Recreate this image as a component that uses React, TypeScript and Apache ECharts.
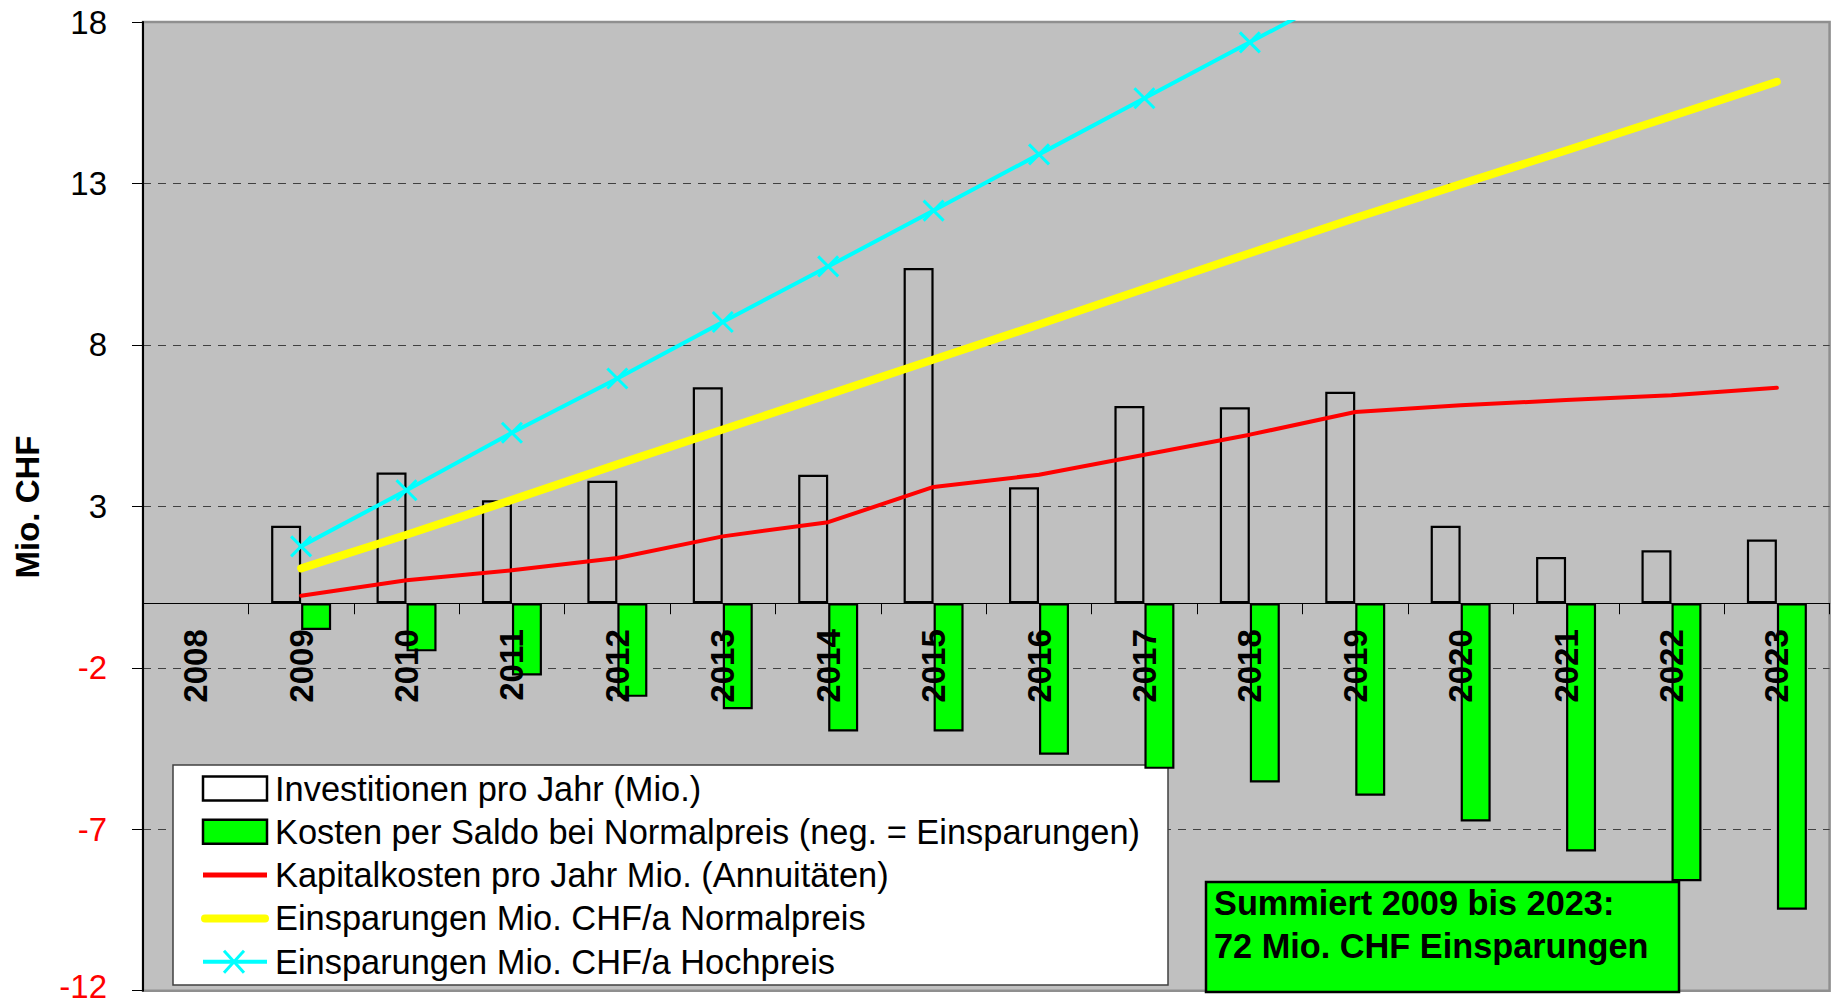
import React, { useEffect, useRef } from 'react';
import * as echarts from 'echarts';

// ---------- data ----------
const years = ['2008', '2009', '2010', '2011', '2012', '2013', '2014', '2015', '2016', '2017', '2018', '2019', '2020', '2021', '2022', '2023'];
const investitionen = [null, 2.40, 4.05, 3.19, 3.79, 6.69, 3.98, 10.38, 3.59, 6.11, 6.07, 6.55, 2.40, 1.43, 1.64, 1.97];
const kostenSaldo = [null, -0.83, -1.49, -2.24, -2.90, -3.28, -3.97, -3.97, -4.69, -5.13, -5.55, -5.96, -6.76, -7.69, -8.61, -9.49];
const kapitalkosten = [null, 0.23, 0.71, 1.02, 1.40, 2.07, 2.51, 3.60, 3.98, 4.60, 5.22, 5.92, 6.13, 6.29, 6.44, 6.67];
const normalpreis = [null, 1.08, 2.12, 3.20, 4.30, 5.38, 6.46, 7.55, 8.63, 9.74, 10.84, 11.93, 12.98, 14.02, 15.08, 16.15];
const hochpreis = [null, 1.76, 3.50, 5.28, 6.96, 8.71, 10.43, 12.16, 13.90, 15.64, 17.37, 19.10, null, null, null, null];

const yMin = -12;
const yMax = 18;
const yStep = 5;

const seriesNames = [
  'Investitionen pro Jahr (Mio.)',
  'Kosten per Saldo bei Normalpreis (neg. = Einsparungen)',
  'Kapitalkosten pro Jahr Mio. (Annuitäten)',
  'Einsparungen Mio. CHF/a Normalpreis',
  'Einsparungen Mio. CHF/a Hochpreis',
];
const yAxisTitle = 'Mio. CHF';
const summaryLines = ['Summiert 2009 bis 2023:', '72 Mio. CHF Einsparungen'];

const FONT = '"Liberation Sans", Arial, Helvetica, sans-serif';
const C_RED = '#FF0000';
const C_YELLOW = '#FFFF00';
const C_CYAN = '#00FFFF';
const C_GREEN = '#00FF00';

// layout
const W = 1831;
const H = 1007;
const GRID_LEFT = 143;
const GRID_RIGHT = 1.4;
const GRID_TOP = 22;
const GRID_BOTTOM = 16.3;

function txt(text: string, x: number, y: number, size: number, weight: string, extra: any = {}) {
  return {
    type: 'text',
    x,
    y,
    z: extra.z ?? 5,
    rotation: extra.rotation ?? 0,
    silent: true,
    style: {
      text,
      fill: '#000',
      fontSize: size,
      fontFamily: FONT,
      fontWeight: weight,
      align: extra.align ?? 'left',
      textAlign: extra.align ?? 'left',
      verticalAlign: 'middle',
      textVerticalAlign: 'middle',
    },
  };
}

export default function App() {
  const ref = useRef<HTMLDivElement>(null);

  useEffect(() => {
    document.body.style.margin = '0';
    const chart = echarts.init(ref.current!, undefined, { renderer: 'svg' });

    const gridH = H - GRID_TOP - GRID_BOTTOM;
    // distance from grid bottom up to the zero line
    const zeroOffset = (gridH * (0 - yMin)) / (yMax - yMin);

    const rowY = (i: number) => 788.5 + i * 43.3;
    const iconX = 203;
    const iconW = 64;
    const textX = 275;

    const legendGraphics: any[] = [
      {
        type: 'rect', z: 1, silent: true,
        shape: { x: 173, y: 765, width: 995, height: 220 },
        style: { fill: '#FFFFFF', stroke: '#404040', lineWidth: 1.5 },
      },
      {
        type: 'rect', z: 5, silent: true,
        shape: { x: iconX, y: rowY(0) - 12, width: iconW, height: 24 },
        style: { fill: '#FFFFFF', stroke: '#000', lineWidth: 2.5 },
      },
      {
        type: 'rect', z: 5, silent: true,
        shape: { x: iconX, y: rowY(1) - 12, width: iconW, height: 24 },
        style: { fill: C_GREEN, stroke: '#000', lineWidth: 2.5 },
      },
      {
        type: 'line', z: 5, silent: true,
        shape: { x1: iconX, y1: rowY(2), x2: iconX + iconW, y2: rowY(2) },
        style: { stroke: C_RED, lineWidth: 5 },
      },
      {
        type: 'line', z: 5, silent: true,
        shape: { x1: iconX + 2, y1: rowY(3), x2: iconX + iconW - 2, y2: rowY(3) },
        style: { stroke: C_YELLOW, lineWidth: 8, lineCap: 'round' },
      },
      {
        type: 'line', z: 5, silent: true,
        shape: { x1: iconX, y1: rowY(4), x2: iconX + iconW, y2: rowY(4) },
        style: { stroke: C_CYAN, lineWidth: 4 },
      },
      {
        type: 'line', z: 5, silent: true,
        shape: { x1: 224, y1: rowY(4) - 11, x2: 244, y2: rowY(4) + 11 },
        style: { stroke: C_CYAN, lineWidth: 3 },
      },
      {
        type: 'line', z: 5, silent: true,
        shape: { x1: 244, y1: rowY(4) - 11, x2: 224, y2: rowY(4) + 11 },
        style: { stroke: C_CYAN, lineWidth: 3 },
      },
      ...seriesNames.map((n, i) => txt(n, textX, rowY(i), 34.4, 'normal')),
    ];

    const summaryGraphics: any[] = [
      {
        type: 'rect', z: 100, silent: true,
        shape: { x: 1206, y: 882, width: 473, height: 110 },
        style: { fill: C_GREEN, stroke: '#000', lineWidth: 2.5 },
      },
      txt(summaryLines[0], 1214, 903, 34.3, 'bold', { z: 101 }),
      txt(summaryLines[1], 1214, 946, 34.3, 'bold', { z: 101 }),
    ];

    const titleGraphic = txt(yAxisTitle, 27, 507, 33, 'bold', { rotation: Math.PI / 2, align: 'center' });

    chart.setOption({
      animation: false,
      textStyle: { fontFamily: FONT },
      grid: {
        left: GRID_LEFT,
        right: GRID_RIGHT,
        top: GRID_TOP,
        bottom: GRID_BOTTOM,
        show: true,
        backgroundColor: '#C0C0C0',
        borderColor: '#8f8f8f',
        borderWidth: 2.5,
        containLabel: false,
        outerBoundsMode: 'none',
      },
      xAxis: {
        type: 'category',
        data: years,
        boundaryGap: true,
        position: 'bottom',
        offset: -zeroOffset,
        z: 10,
        axisLine: { show: true, onZero: false, lineStyle: { color: '#000', width: 1.2 } },
        axisTick: { show: true, interval: 0, length: 11, inside: false, lineStyle: { color: '#000', width: 1 } },
        axisLabel: {
          interval: 0,
          rotate: 90,
          margin: 26,
          fontSize: 33,
          fontWeight: 'bold',
          color: '#000',
          fontFamily: FONT,
          hideOverlap: false,
        },
        splitLine: { show: false },
      },
      yAxis: {
        type: 'value',
        min: yMin,
        max: yMax,
        interval: yStep,
        axisLine: { show: true, lineStyle: { color: '#000', width: 2 } },
        axisTick: { show: true, length: 11, inside: false, lineStyle: { color: '#000', width: 1 } },
        axisLabel: {
          margin: 36,
          fontSize: 33,
          lineHeight: 27,
          fontFamily: FONT,
          color: (v: any) => (Number(v) < 0 ? C_RED : '#000000'),
          formatter: (v: number) => (v === yMin ? `{low|${v}}` : `${v}`),
          rich: {
            low: {
              color: C_RED,
              fontSize: 33,
              lineHeight: 27,
              fontFamily: FONT,
              padding: [0, 0, 9, 0],
            },
          },
        },
        splitLine: {
          show: true,
          showMinLine: false,
          showMaxLine: false,
          lineStyle: { color: '#404040', type: [8, 7], width: 1 },
        },
      },
      series: [
        {
          name: seriesNames[0],
          type: 'bar',
          data: investitionen,
          barWidth: 30,
          barGap: '0%',
          silent: true,
          z: 2,
          itemStyle: { color: 'rgba(0,0,0,0)', borderColor: '#000', borderWidth: 2.2 },
        },
        {
          name: seriesNames[1],
          type: 'bar',
          data: kostenSaldo,
          barWidth: 30,
          barGap: '0%',
          silent: true,
          z: 2,
          itemStyle: { color: C_GREEN, borderColor: '#000', borderWidth: 2.2 },
        },
        {
          name: seriesNames[2],
          type: 'line',
          data: kapitalkosten,
          symbol: 'none',
          silent: true,
          z: 3,
          lineStyle: { color: C_RED, width: 4, join: 'round', cap: 'round' },
        },
        {
          name: seriesNames[3],
          type: 'line',
          data: normalpreis,
          symbol: 'none',
          silent: true,
          z: 3,
          lineStyle: { color: C_YELLOW, width: 8, join: 'round', cap: 'round' },
        },
        {
          name: seriesNames[4],
          type: 'line',
          data: hochpreis,
          symbol: 'path://M0,0L10,10M10,0L0,10',
          symbolSize: 20,
          showAllSymbol: true,
          clip: true,
          silent: true,
          z: 4,
          itemStyle: { color: C_CYAN, borderColor: C_CYAN, borderWidth: 3 },
          lineStyle: { color: C_CYAN, width: 4 },
        },
      ],
      graphic: { elements: [titleGraphic, ...legendGraphics, ...summaryGraphics] },
    });

    return () => chart.dispose();
  }, []);

  return (
    <div
      ref={ref}
      style={{ position: 'fixed', left: 0, top: 0, width: W, height: H, background: '#FFFFFF' }}
    />
  );
}
